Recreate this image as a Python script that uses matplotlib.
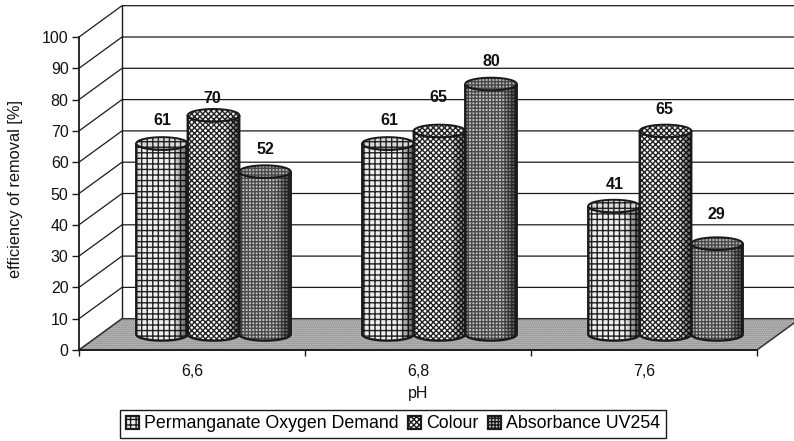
import numpy as np
import matplotlib
matplotlib.use("Agg")
import matplotlib.pyplot as plt
from matplotlib.patches import Polygon, Patch

categories = ["6,6", "6,8", "7,6"]
series_names = ["Permanganate Oxygen Demand", "Colour", "Absorbance UV254"]
pom = [61, 61, 41]
colour = [70, 65, 65]
uv254 = [52, 80, 29]
y_ticks = list(range(0, 101, 10))

plt.rcParams["font.family"] = ["Liberation Sans", "DejaVu Sans"]
plt.rcParams["hatch.linewidth"] = 1.0

W, H = 794, 441
fig = plt.figure(figsize=(W / 100, H / 100), dpi=100, facecolor="white")
ax = fig.add_axes([79 / W, (H - 350) / H, 678 / W, 313 / H])
ax.set_xlim(0, 3)
ax.set_ylim(0, 100)
ax.patch.set_visible(False)

DX, DY = 43 / 226, 10.0        # depth of the 3-D box in data units
BW = 51.5 / 226                # bar width
MINOR = 2.0                    # ellipse half-height
K = "#1a1a1a"

# floor
floor = [(0, 0), (DX, DY), (3 + DX, DY), (3, 0)]
ax.add_patch(Polygon(floor, closed=True, facecolor="#d0d0d0", edgecolor="#777777", lw=0,
                     hatch="........", clip_on=False, zorder=1))
ax.add_patch(Polygon(floor, closed=True, fill=False, edgecolor="#333333", lw=1.1,
                     clip_on=False, zorder=1.1))
# walls
for v in y_ticks:
    ax.plot([0, DX, 3 + DX], [v, v + DY, v + DY], color=K, lw=0.9, clip_on=False, zorder=0.5)
ax.plot([DX, DX], [DY, 100 + DY], color=K, lw=1.0, clip_on=False, zorder=0.6)

styles = [
    dict(facecolor="#eeeeee", hatch="+++", top="#d8d8d8", hatch_color="#222222"),
    dict(facecolor="#ffffff", hatch="xxxxxx", top="#eeeeee", hatch_color="#222222"),
    dict(facecolor="#c4c4c4", hatch="+++++", top="#b4b4b4", hatch_color="#4a4a4a"),
]
values = [pom, colour, uv254]
t = np.linspace(0, np.pi, 40)


def cylinder(cx, v, st, z):
    rx = BW / 2
    base = DY / 2
    low = np.column_stack([cx - rx * np.cos(t), base - MINOR * np.sin(t)])
    up = np.column_stack([cx + rx * np.cos(t), base + v - MINOR * np.sin(t)])
    body = Polygon(np.vstack([low, up]), closed=True, facecolor=st["facecolor"],
                   hatch=st["hatch"], edgecolor=st["hatch_color"], lw=0, zorder=z, clip_on=False)
    ax.add_patch(body)
    # cylindrical shading, darker towards the right edge
    edges = np.linspace(-1, 1, 31)
    for a, b in zip(edges[:-1], edges[1:]):
        m = (a + b) / 2
        alpha = 0.7 * max(0, m - 0.45) / 0.55 + 0.3 * max(0, -m - 0.85) / 0.15
        if alpha <= 0:
            continue
        xs = [cx + a * rx, cx + b * rx, cx + b * rx, cx + a * rx]
        ya = np.sqrt(1 - a * a) * MINOR
        yb = np.sqrt(1 - b * b) * MINOR
        ys = [base - ya, base - yb, base + v - yb, base + v - ya]
        ax.add_patch(Polygon(np.column_stack([xs, ys]), closed=True, facecolor="black",
                             alpha=alpha, lw=0, zorder=z + 0.01, clip_on=False))
    ax.add_patch(Polygon(np.vstack([low, up]), closed=True, fill=False, edgecolor=K,
                         lw=1.7, zorder=z + 0.02, clip_on=False))
    phi = np.linspace(0, 2 * np.pi, 80)
    top = np.column_stack([cx + rx * np.cos(phi), base + v + MINOR * np.sin(phi)])
    ax.add_patch(Polygon(top, closed=True, facecolor=st["top"], hatch=st["hatch"],
                         edgecolor=st["hatch_color"], lw=0, zorder=z + 0.03, clip_on=False))
    ax.add_patch(Polygon(top, closed=True, fill=False, edgecolor=K, lw=1.4,
                         zorder=z + 0.04, clip_on=False))
    return cx, base + v


# value-label nudges in pixels (dx, dy) above the cap
nudges = [[(0, 23), (1, 23), (1, 22)],
          [(-1, 17), (-1, 33), (-1, 21)],
          [(0, 22), (0, 22), (-1, 29)]]
order = [0, 2, 1]
for g in range(len(categories)):
    for s in order:
        cx = g + 0.5 + DX / 2 + (s - 1) * BW
        x0, y0 = cylinder(cx, values[s][g], styles[s], 3 + order.index(s) * 0.1 + g)
        nx, ny = nudges[s][g]
        ax.annotate(str(values[s][g]), (x0, y0), xytext=(nx * 0.72, ny * 0.72),
                    textcoords="offset points", ha="center", va="center",
                    fontsize=11.5, fontweight="bold", color="#111111", zorder=20,
                    annotation_clip=False)

for sp in ["top", "right"]:
    ax.spines[sp].set_visible(False)
for sp in ["left", "bottom"]:
    ax.spines[sp].set_color(K)
    ax.spines[sp].set_linewidth(1.3)
    ax.spines[sp].set_zorder(2)

ax.set_yticks(y_ticks)
ax.set_xticks([0, 1, 2, 3])
ax.set_xticklabels([])
ax.set_xticks([0.5, 1.5, 2.5], minor=True)
ax.set_xticklabels(categories, minor=True, fontsize=11.5, color="#111111")
ax.tick_params(axis="x", which="minor", length=0, pad=10)
ax.tick_params(axis="x", which="major", length=4, width=1, color=K)
ax.tick_params(axis="y", length=5, width=1, color=K, labelsize=11.5, labelcolor="#111111", pad=2.5)
ax.set_xlabel("pH", fontsize=11.5, color="#111111", labelpad=5)
fig.text(16 / W, 1 - 189 / H, "efficiency of removal [%]", rotation=90, ha="center",
         va="center", fontsize=11.75, color="#111111")

handles = [Patch(facecolor=st["facecolor"], hatch=st["hatch"], edgecolor=K, lw=1.6) for st in styles]
leg = fig.legend(handles, series_names, loc="center", ncol=3, fontsize=12.8,
                 bbox_to_anchor=(393 / W, 1 - 424 / H), frameon=True, fancybox=False,
                 edgecolor=K, framealpha=1, handlelength=0.75, handleheight=0.75,
                 handletextpad=0.3, columnspacing=0.5, borderpad=0.3, borderaxespad=0)
leg.get_frame().set_linewidth(1.0)

fig.savefig("out.png", dpi=100, facecolor="white")
